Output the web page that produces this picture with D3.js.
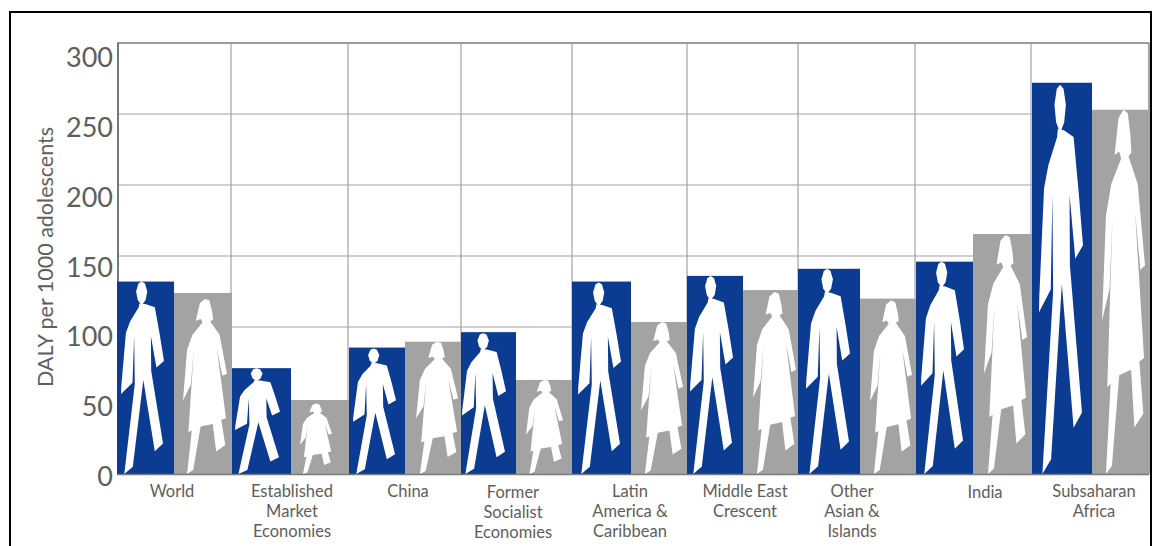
<!DOCTYPE html>
<html><head><meta charset="utf-8">
<script src="https://cdn.jsdelivr.net/npm/d3@7"></script>
<style>html,body{margin:0;padding:0;background:#fff}svg{display:block}text{font-family:Lato,"Open Sans",sans-serif;fill:#5e5e5e}</style>
</head><body><svg id="c" width="1161" height="546"></svg>
<script>
// ---- data ----
const categories = [["World"],["Established","Market","Economies"],["China"],["Former","Socialist","Economies"],["Latin","America &","Caribbean"],["Middle East","Crescent"],["Other","Asian &","Islands"],["India"],["Subsaharan","Africa"]];
const maleValues   = [132,72,86,96.5,132,136,141,146,272];
const femaleValues = [124,50,90,64,103.5,126,120,165.5,253];
const yTicks = [0,50,100,150,200,250,300];
const yTitle = "DALY per 1000 adolescents";

// ---- layout ----
const barEdges = [117,174,232,291,349,405,461,516,572,631,687,743,798,860,916,973,1032,1092,1149];
const gridX = [231,348,461,572,687,798,915,1031];
const labelX = [172,292,408,513,630,745,852,985,1094];
const labelY = [497,497,497,498,497,497,497,498,497];
// figure extents inside each bar
const maleFig   = {left:[121,235,353,462,578,690,806,921,1039], width:[43,45,43,44,43,43,44,43,44], inset:[0,0,1,1,1,0,0,0,2]};
const femaleFig = {left:[183,300,416,526,641,753,870,984,1102], width:[44,32,42,37,42,43,42,43,43], inset:[6,3,0,0,0,2,2,1,0]};
const BLUE="#0b3c92",GREY="#a3a3a3",GRID="#a2a2a2";
const svg=d3.select("#c");
const y=d3.scaleLinear().domain([0,100,300]).range([474,327,43]);
const yLabel=d3.scaleLinear().domain([0,300]).range([477,58]);
const x=d3.scaleLinear().domain(d3.range(barEdges.length).map(i=>i/2)).range(barEdges);

// frame
svg.append("path").attr("d",d3.line()([[10,546],[10,12],[1151,12],[1151,546]])).attr("fill","none").attr("stroke","#000").attr("stroke-width",2);

// grid
svg.append("g").selectAll("line").data(yTicks.filter(d=>d>0)).join("line")
  .attr("x1",x(0)).attr("x2",x(9)).attr("y1",d=>y(d)).attr("y2",d=>y(d))
  .attr("stroke",d=>d===300?"#7a7a7a":GRID).attr("stroke-width",d=>d===300?1.5:1.2);
svg.append("g").selectAll("line").data(gridX).join("line")
  .attr("x1",d=>d).attr("x2",d=>d).attr("y1",y(300)).attr("y2",y(0))
  .attr("stroke",GRID).attr("stroke-width",1.2);
svg.append("line").attr("x1",118).attr("x2",118).attr("y1",y(300)).attr("y2",y(0)).attr("stroke","#777").attr("stroke-width",2);
svg.append("line").attr("x1",1149).attr("x2",1149).attr("y1",y(300)).attr("y2",y(0)).attr("stroke","#888").attr("stroke-width",1.5);

// figure glyphs, drawn in their own box and mapped onto each bar
const maleBody=[[88,96],[106,98],[135,108],[150,190],[163,270],[140,290],[123,195],[124,300],[160,520],[135,543],[100,328],[68,590],[42,612],[74,340],[72,195],[67,336],[32,370],[33,345],[47,185],[60,150],[86,108]];
const maleHead=[[95,30],[105,36],[112,60],[107,86],[95,102],[83,86],[78,60],[85,36]];
const femaleBody=[[285,88],[298,93],[306,125],[309,150],[300,155],[328,195],[350,312],[336,318],[320,235],[347,445],[333,450],[345,525],[318,545],[308,462],[272,470],[250,600],[232,612],[246,482],[236,487],[252,240],[243,345],[220,392],[232,240],[248,195],[278,158],[272,148],[258,153],[270,100]];
const maleBox={x0:32,x1:163,y0:30,y1:612}, femaleBox={x0:220,x1:350,y0:88,y1:612};
function glyph(pts,box,left,width,top,bottom){
  const gx=d3.scaleLinear().domain([box.x0,box.x1]).range([left,left+width]);
  const gy=d3.scaleLinear().domain([box.y0,box.y1]).range([top,bottom]);
  return d3.line().x(p=>gx(p[0])).y(p=>gy(p[1]))(pts)+"Z";
}

// bars and figures
categories.forEach((c,i)=>{
  [[maleValues[i],i,i+.5,BLUE,[maleBody,maleHead],maleBox,maleFig],[femaleValues[i],i+.5,i+1,GREY,[femaleBody],femaleBox,femaleFig]].forEach(([v,a,b,col,shapes,box,f])=>{
    svg.append("rect").attr("x",x(a)).attr("width",x(b)-x(a)).attr("y",y(v)).attr("height",y(0)-y(v)).attr("fill",col);
    shapes.forEach(s=>svg.append("path").attr("d",glyph(s,box,f.left[i],f.width[i],y(v)+f.inset[i],y(0))).attr("fill","#fff"));
  });
});
svg.append("line").attr("x1",x(0)).attr("x2",x(9)).attr("y1",y(0)+.5).attr("y2",y(0)+.5).attr("stroke","#7a7a7a").attr("stroke-width",1.5);

// y tick labels
const ax=svg.append("g").attr("transform","translate(113,0)").call(d3.axisLeft(yLabel).tickValues(yTicks).tickSize(0).tickPadding(0));
ax.select(".domain").remove();
ax.selectAll("text").attr("font-size",27).style("font-family","Lato").style("fill","#5e5e5e");

// y title
svg.append("text").attr("transform","translate(53,257) rotate(-90)").attr("text-anchor","middle").attr("font-size",21.5).text(yTitle);

// category labels
svg.append("g").selectAll("text").data(categories).join("text")
  .attr("text-anchor","middle").attr("font-size",16.5)
  .each(function(lines,i){
    d3.select(this).selectAll("tspan").data(lines).join("tspan")
      .attr("x",labelX[i]).attr("y",(d,k)=>labelY[i]+k*20).text(d=>d);
  });
</script></body></html>
